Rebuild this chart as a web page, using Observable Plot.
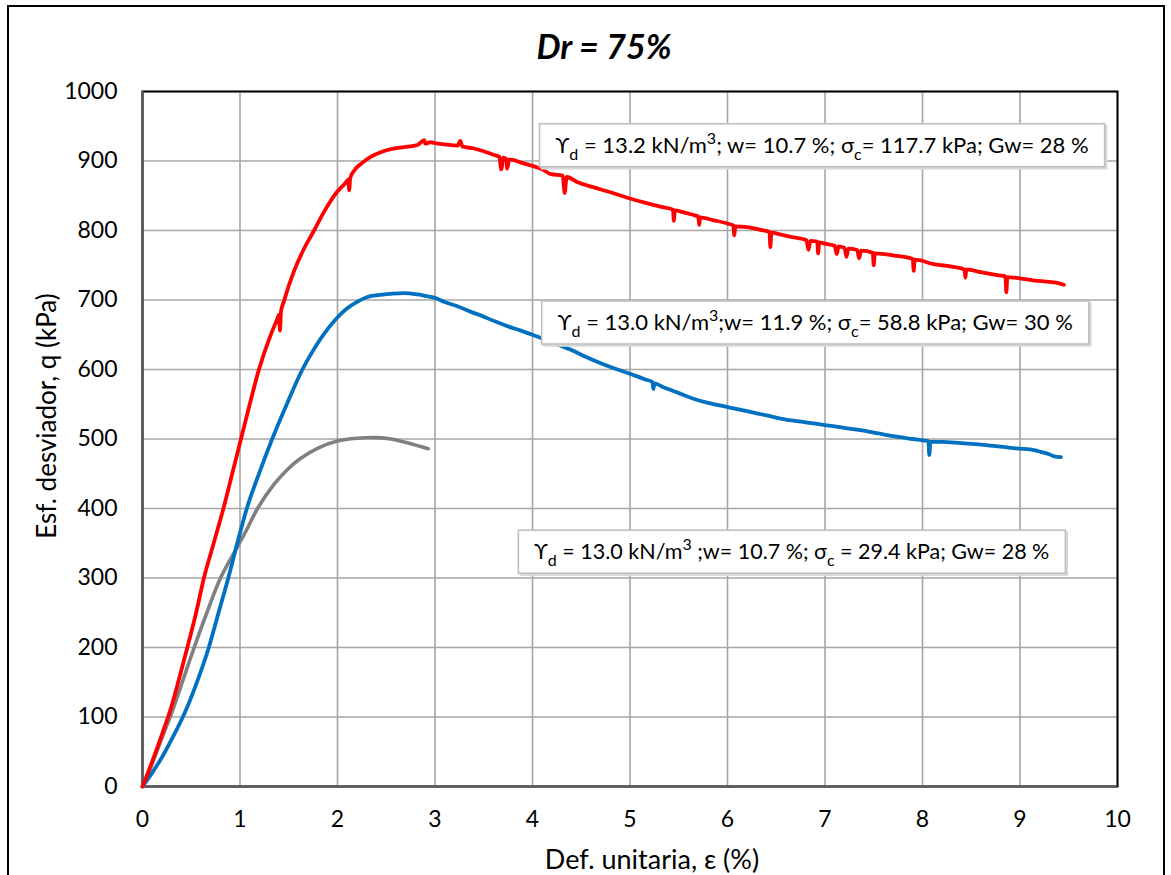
<!DOCTYPE html>
<html>
<head>
<meta charset="utf-8">
<script src="https://cdn.jsdelivr.net/npm/d3@7"></script>
<script src="https://cdn.jsdelivr.net/npm/@observablehq/plot@0.6"></script>
<style>
  html, body { margin: 0; padding: 0; background: #fff; }
  #wrap { position: relative; width: 1171px; height: 875px; overflow: hidden; }
  #outer { position: absolute; left: 7px; top: 5px; width: 1154px; height: 900px; border: 2px solid #000; pointer-events: none; }
</style>
</head>
<body>
<div id="wrap"><div id="outer"></div></div>
<script>
// ---- data ----
const title = "Dr = 75%";
const xLabel = "Def. unitaria, ε (%)";
const yLabel = "Esf. desviador, q (kPa)";
const xTicks = [0, 1, 2, 3, 4, 5, 6, 7, 8, 9, 10];
const yTicks = [0, 100, 200, 300, 400, 500, 600, 700, 800, 900, 1000];

// σc = 117.7 kPa (red)
const redStrain = [0, 0.10, 0.20, 0.29, 0.37, 0.46, 0.55, 0.63, 0.73, 0.83, 0.92, 1.01, 1.10, 1.19, 1.31, 1.38, 1.40, 1.41, 1.42, 1.45, 1.55, 1.65, 1.76, 1.85, 1.91, 1.97, 2.03, 2.08, 2.11, 2.12, 2.13, 2.17, 2.25, 2.34, 2.45, 2.55, 2.68, 2.82, 2.89, 2.90, 2.95, 3.03, 3.10, 3.23, 3.26, 3.28, 3.40, 3.50, 3.60, 3.66, 3.68, 3.70, 3.73, 3.74, 3.76, 3.78, 3.90, 4.00, 4.10, 4.19, 4.31, 4.33, 4.35, 4.47, 4.63, 4.80, 5.00, 5.15, 5.32, 5.44, 5.45, 5.46, 5.55, 5.66, 5.70, 5.71, 5.72, 5.85, 6.00, 6.06, 6.07, 6.08, 6.20, 6.34, 6.43, 6.44, 6.45, 6.55, 6.68, 6.81, 6.83, 6.85, 6.92, 6.93, 6.94, 7.00, 7.10, 7.12, 7.14, 7.20, 7.22, 7.24, 7.33, 7.35, 7.37, 7.49, 7.50, 7.51, 7.71, 7.90, 7.91, 7.92, 7.98, 8.10, 8.20, 8.30, 8.43, 8.44, 8.45, 8.60, 8.75, 8.85, 8.86, 8.87, 9.00, 9.15, 9.30, 9.40, 9.45];
const redStress = [0, 36, 75, 112, 152, 200, 250, 300, 350, 400, 450, 500, 550, 598, 648, 672, 679, 656, 683, 698, 740, 772, 800, 824, 838, 851, 861, 868, 873, 858, 875, 886, 897, 906, 913, 917, 920, 923, 930, 925, 927, 925, 924, 922, 929, 921, 918, 914, 909, 906, 888, 905, 903, 889, 902, 902, 897, 893, 888, 881, 879, 854, 877, 869, 862, 855, 846, 840, 834, 830, 814, 829, 826, 822, 820, 808, 819, 815, 810, 807, 793, 806, 805, 801, 798, 776, 797, 794, 790, 786, 772, 785, 784, 767, 783, 781, 778, 766, 777, 775, 762, 774, 772, 760, 771, 768, 750, 767, 764, 759, 742, 758, 757, 752, 750, 748, 744, 732, 744, 740, 736, 734, 711, 733, 731, 728, 726, 724, 722];

// σc = 58.8 kPa (blue)
const blueStrain = [0, 0.10, 0.20, 0.30, 0.43, 0.55, 0.68, 0.78, 0.88, 0.97, 1.07, 1.20, 1.33, 1.48, 1.64, 1.74, 1.83, 1.98, 2.10, 2.21, 2.30, 2.41, 2.55, 2.68, 2.82, 2.90, 3.00, 3.10, 3.23, 3.35, 3.50, 3.62, 3.75, 3.88, 4.00, 4.20, 4.40, 4.55, 4.70, 4.85, 5.00, 5.15, 5.23, 5.24, 5.25, 5.35, 5.50, 5.65, 5.80, 6.00, 6.20, 6.40, 6.60, 6.80, 7.00, 7.20, 7.40, 7.55, 7.75, 7.90, 8.00, 8.06, 8.07, 8.08, 8.20, 8.40, 8.60, 8.80, 9.00, 9.10, 9.20, 9.30, 9.35, 9.42];
const blueStress = [0, 20, 42, 68, 105, 147, 200, 250, 300, 349, 400, 452, 500, 550, 600, 625, 645, 672, 688, 698, 704, 707, 709, 710, 708, 706, 703, 697, 691, 684, 676, 669, 662, 656, 650, 639, 628, 618, 609, 601, 594, 586, 582, 572, 580, 574, 566, 558, 552, 546, 540, 534, 528, 524, 520, 516, 512, 508, 503, 500, 498, 497, 477, 496, 496, 494, 492, 489, 486, 485, 482, 478, 475, 474];

// σc = 29.4 kPa (gray)
const grayStrain = [0, 0.10, 0.20, 0.31, 0.42, 0.53, 0.66, 0.80, 0.97, 1.07, 1.18, 1.35, 1.50, 1.62, 1.80, 2.00, 2.20, 2.40, 2.55, 2.93];
const grayStress = [0, 33, 70, 110, 155, 200, 250, 300, 344, 370, 400, 435, 458, 472, 487, 497, 501, 502, 500, 486];

// annotation labels (_x = subscript, ^x = superscript) and their anchor points (strain, stress)
const annText = [
  "ϒ_d = 13.2 kN/m^3; w= 10.7 %; σ_c= 117.7 kPa; Gw= 28 %",
  "ϒ_d = 13.0 kN/m^3;w= 11.9 %; σ_c= 58.8 kPa; Gw= 30 %",
  "ϒ_d = 13.0 kN/m^3 ;w= 10.7 %; σ_c = 29.4 kPa; Gw= 28 %"
];
const annStrain = [6.97, 6.90, 6.66];
const annStress = [922, 667, 337];
const annSize = [22, 22, 21.5];

const series = (xs, ys) => xs.map((x, i) => ({x, y: ys[i]}));
const red = series(redStrain, redStress);
const blue = series(blueStrain, blueStress);
const gray = series(grayStrain, grayStress);
const ann = annText.map((t, i) => ({t, x: annStrain[i], y: annStress[i], s: annSize[i]}));

const FONT = "Lato, 'Open Sans', sans-serif";

const chart = Plot.plot({
  width: 1171,
  height: 875,
  marginLeft: 142,
  marginRight: 54,
  marginTop: 91,
  marginBottom: 89,
  style: {fontFamily: FONT, fontSize: "23px", color: "#000", background: "transparent", overflow: "visible"},
  x: {domain: [0, 10]},
  y: {domain: [0, 1000]},
  marks: [
    Plot.gridX(xTicks, {stroke: "#a6a6a6", strokeOpacity: 1, strokeWidth: 1.6}),
    Plot.gridY(yTicks, {stroke: "#a6a6a6", strokeOpacity: 1, strokeWidth: 1.6}),
    Plot.axisX(xTicks, {tickSize: 0, tickPadding: 24, label: null, fontSize: 23, tickFormat: d => String(d)}),
    Plot.axisY(yTicks, {tickSize: 0, tickPadding: 25, label: null, fontSize: 23, tickFormat: d => String(d)}),
    Plot.frame({stroke: "#000", strokeWidth: 2}),
    Plot.ruleX([0], {stroke: "#595959", strokeWidth: 2.2}),
    Plot.ruleY([0], {stroke: "#595959", strokeWidth: 2.2}),
    Plot.line(gray, {x: "x", y: "y", stroke: "#808080", strokeWidth: 3.6, curve: "catmull-rom"}),
    Plot.line(blue, {x: "x", y: "y", stroke: "#0070c0", strokeWidth: 3.8, curve: "monotone-x"}),
    Plot.line(red, {x: "x", y: "y", stroke: "#ff0000", strokeWidth: 3.8, curve: "monotone-x"}),
    Plot.text(ann, {x: "x", y: "y", text: "t", fontSize: "s", fill: "#000", className: "ann"}),
    Plot.text([title], {frameAnchor: "top", lineAnchor: "middle", textAnchor: "middle", dx: -26, dy: -43, fontSize: 34, fontWeight: "bold", fontStyle: "italic"}),
    Plot.text([yLabel], {frameAnchor: "left", lineAnchor: "middle", textAnchor: "middle", rotate: -90, dx: -95, dy: -23, fontSize: 26}),
    Plot.text([xLabel], {frameAnchor: "bottom", lineAnchor: "middle", textAnchor: "middle", dx: 22, dy: 74, fontSize: 27})
  ]
});

document.getElementById("wrap").insertBefore(chart, document.getElementById("outer"));

// rich text (sub/superscripts) and boxes for annotations
const svgNS = "http://www.w3.org/2000/svg";
chart.querySelectorAll("g.ann text").forEach(t => {
  const raw = t.textContent;
  const segs = [];
  let buf = "";
  for (let i = 0; i < raw.length; i++) {
    const c = raw[i];
    if ((c === "_" || c === "^") && i + 1 < raw.length) {
      if (buf) segs.push({s: buf, k: "n"});
      buf = "";
      segs.push({s: raw[i + 1], k: c === "_" ? "sub" : "sup"});
      i++;
    } else buf += c;
  }
  if (buf) segs.push({s: buf, k: "n"});
  while (t.firstChild) t.removeChild(t.firstChild);
  let shift = 0;
  segs.forEach(seg => {
    const ts = document.createElementNS(svgNS, "tspan");
    let target = seg.k === "sub" ? 7 : seg.k === "sup" ? -9 : 0;
    ts.setAttribute("dy", String(target - shift));
    shift = target;
    if (seg.k !== "n") ts.setAttribute("font-size", "16");
    ts.textContent = seg.s;
    t.appendChild(ts);
  });
  const bb = t.getBBox();
  const cy = bb.y + bb.height / 2;
  const tr = t.getAttribute("transform");
  const mk = (dx, dy, stroke, fill) => {
    const r = document.createElementNS(svgNS, "rect");
    r.setAttribute("x", bb.x - 16 + dx);
    r.setAttribute("y", cy - 21.5 + dy);
    r.setAttribute("width", bb.width + 32);
    r.setAttribute("height", 43);
    r.setAttribute("fill", fill);
    r.setAttribute("stroke", stroke);
    r.setAttribute("stroke-width", 1.6);
    if (tr) r.setAttribute("transform", tr);
    t.parentNode.insertBefore(r, t);
  };
  mk(2, 2, "#d9d9d9", "#d9d9d9");
  mk(0, 0, "#bfbfbf", "#fff");
});
</script>
</body>
</html>
